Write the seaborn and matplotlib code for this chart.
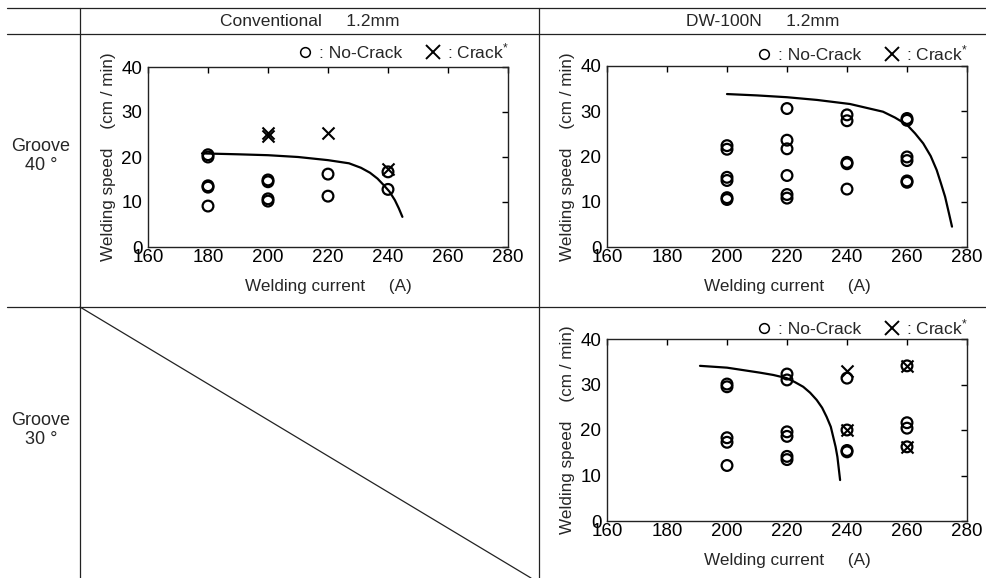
import seaborn as sns
import matplotlib.pyplot as plt
import pandas as pd
from matplotlib.lines import Line2D

# Conventional 1.2mm, groove 40
conv40_ok_x = [180, 180, 180, 180, 180, 200, 200, 200, 200, 220, 220, 240, 240]
conv40_ok_y = [20.5, 20.0, 13.6, 13.3, 9.1, 14.9, 14.5, 10.7, 10.2, 16.2, 11.3, 16.7, 12.8]
conv40_ng_x = [200, 200, 220, 240]
conv40_ng_y = [25.4, 24.7, 25.4, 17.4]
conv40_line_x = [178, 190, 200, 210, 220, 227, 231, 234, 236.5, 238.5, 240.5, 242.3, 243.6, 244.8]
conv40_line_y = [20.8, 20.6, 20.4, 20.0, 19.3, 18.6, 17.6, 16.5, 15.2, 13.8, 12.3, 10.4, 8.6, 6.7]

# DW-100N 1.2mm, groove 40
dw40_ok_x = [200, 200, 200, 200, 200, 200,
             220, 220, 220, 220, 220, 220,
             240, 240, 240, 240, 240,
             260, 260, 260, 260, 260, 260]
dw40_ok_y = [22.4, 21.6, 15.4, 14.7, 10.9, 10.5,
             30.6, 23.6, 21.7, 15.8, 11.6, 10.8,
             29.2, 27.9, 18.7, 18.4, 12.8,
             28.4, 28.0, 19.9, 19.1, 14.6, 14.3]
dw40_ng_x = []
dw40_ng_y = []
dw40_line_x = [200, 210, 220, 230, 241, 252, 256, 260, 262.7, 265.4, 267.9, 269.9,
               271.3, 272.7, 274, 275]
dw40_line_y = [33.8, 33.5, 33.1, 32.5, 31.6, 29.9, 28.6, 27.0, 25.1, 22.9, 20.1, 17.0,
               14.1, 11.1, 7.4, 4.5]

# DW-100N 1.2mm, groove 30
dw30_ok_x = [200, 200, 200, 200, 200,
             220, 220, 220, 220, 220, 220,
             240, 240, 240, 240,
             260, 260, 260, 260]
dw30_ok_y = [30.1, 29.5, 18.3, 17.3, 12.2,
             32.3, 31.0, 19.6, 18.6, 14.2, 13.5,
             31.4, 20.0, 15.5, 15.2,
             34.1, 21.6, 20.4, 16.3]
dw30_ng_x = [240, 240, 260, 260]
dw30_ng_y = [33.0, 20.0, 34.1, 16.3]
dw30_line_x = [191, 200, 211, 215.4, 219.9, 222.7, 225.4, 227.7, 229.9, 231.7, 233.2,
               234.6, 235.4, 236.2, 236.8, 237.7]
dw30_line_y = [34.1, 33.7, 32.6, 32.1, 31.4, 30.5, 29.5, 28.2, 26.6, 24.9, 22.9,
               20.7, 18.5, 16.3, 14.1, 9.0]

sns.set_style("white")
plt.rcParams['font.family'] = ['Liberation Sans', 'DejaVu Sans']
plt.rcParams['mathtext.fontset'] = 'custom'
plt.rcParams['mathtext.rm'] = 'Liberation Sans'
plt.rcParams['mathtext.it'] = 'Liberation Sans'

W, H = 987, 578
fig = plt.figure(figsize=(W / 100, H / 100), dpi=100)


def fx(px):
    return px / W


def fy(py):
    return 1 - py / H


def panel(rect, ok_x, ok_y, ng_x, ng_y, line_x, line_y, leg_dy):
    ax = fig.add_axes(rect)
    ok = pd.DataFrame({"cur": ok_x, "spd": ok_y})
    sns.scatterplot(data=ok, x="cur", y="spd", ax=ax, marker="o", s=60,
                    facecolors="none", edgecolor="black", linewidth=1.6, zorder=3)
    if ng_x:
        ng = pd.DataFrame({"cur": ng_x, "spd": ng_y})
        sns.scatterplot(data=ng, x="cur", y="spd", ax=ax, marker="x", s=75,
                        color="black", linewidth=1.5, zorder=4)
    ln = pd.DataFrame({"cur": line_x, "spd": line_y})
    sns.lineplot(data=ln, x="cur", y="spd", ax=ax, sort=False, estimator=None,
                 color="black", linewidth=1.6)
    ax.set_xlim(160, 280)
    ax.set_ylim(0, 40)
    ax.set_xticks(range(160, 281, 20))
    ax.set_yticks(range(0, 41, 10))
    ax.tick_params(direction="in", top=True, right=True, length=4, width=1,
                   labelsize=13.5, colors="black")
    ax.tick_params(axis="x", pad=1.5)
    ax.tick_params(axis="y", pad=4)
    for s in ax.spines.values():
        s.set_color("#222222")
        s.set_linewidth(1.0)
    ax.set_xlabel("Welding current     (A)", fontsize=12.3, labelpad=9)
    ax.set_ylabel("Welding speed    (cm / min)", fontsize=12.3, labelpad=4)
    handles = [Line2D([], [], marker="o", ls="none", mfc="none", mec="black", ms=7, mew=1.1),
               Line2D([], [], marker="x", ls="none", color="black", ms=10, mew=1.4)]
    h_ax = rect[3] * H
    ax.legend(handles, [": No-Crack", ": Crack$^{*}$"], loc="lower right",
              bbox_to_anchor=(1.022, 1.0 - leg_dy / h_ax), borderaxespad=0, frameon=False,
              ncol=2, handlelength=0.7, handletextpad=0.45, columnspacing=1.45,
              fontsize=12.5)
    return ax


panel([fx(148), fy(247), fx(360), (247 - 67) / H],
      conv40_ok_x, conv40_ok_y, conv40_ng_x, conv40_ng_y, conv40_line_x, conv40_line_y, 1)
panel([fx(607), fy(247), fx(360), (247 - 66) / H],
      dw40_ok_x, dw40_ok_y, dw40_ng_x, dw40_ng_y, dw40_line_x, dw40_line_y, 4)
panel([fx(607), fy(521), fx(360), (521 - 339) / H],
      dw30_ok_x, dw30_ok_y, dw30_ng_x, dw30_ng_y, dw30_line_x, dw30_line_y, 5)

# table frame
kw = dict(color="#222222", linewidth=0.9, transform=fig.transFigure)
for py in (8, 34, 307):
    fig.add_artist(Line2D([fx(7), 1], [fy(py), fy(py)], **kw))
for px in (80, 539):
    fig.add_artist(Line2D([fx(px), fx(px)], [fy(8), 0], **kw))
fig.add_artist(Line2D([fx(80), fx(531)], [fy(307), 0], **kw))

fig.text(fx(310), fy(21), "Conventional     1.2mm", ha="center", va="center", fontsize=12.5)
fig.text(fx(763), fy(21), "DW-100N     1.2mm", ha="center", va="center", fontsize=12.5)
fig.text(fx(41), fy(156), "Groove\n40 °", ha="center", va="center", fontsize=13,
         multialignment="center", linespacing=1.1)
fig.text(fx(41), fy(430), "Groove\n30 °", ha="center", va="center", fontsize=13,
         multialignment="center", linespacing=1.1)

fig.savefig("out.png", dpi=100)
